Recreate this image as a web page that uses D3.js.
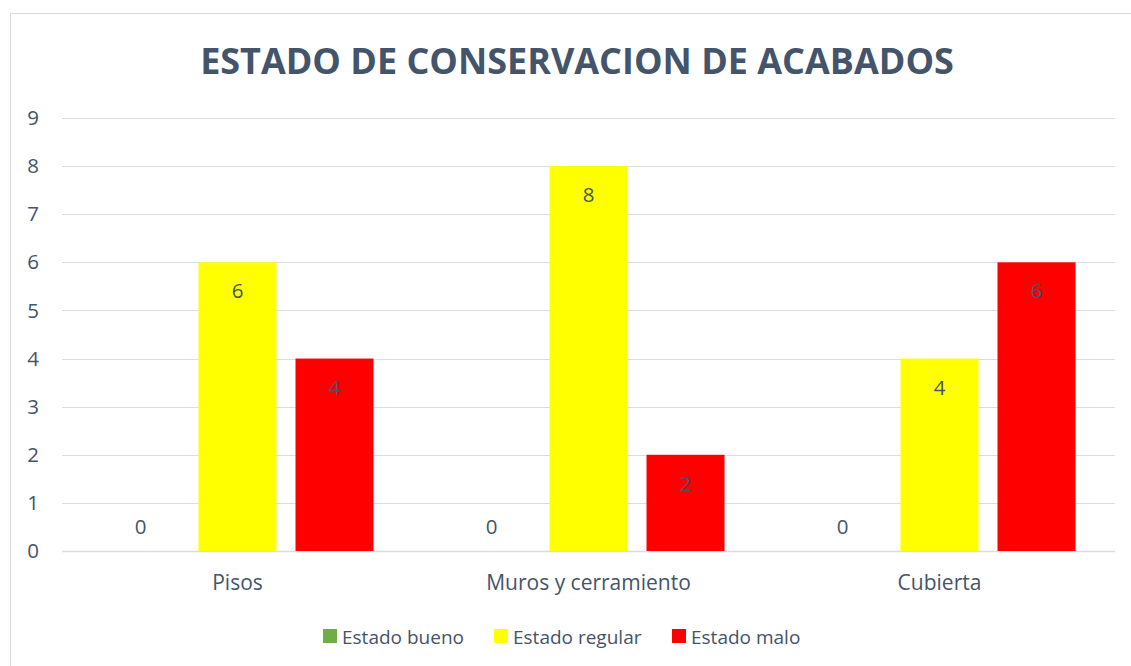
<!DOCTYPE html>
<html lang="es">
<head>
<meta charset="UTF-8">
<title>Estado de conservacion de acabados</title>
<script src="https://d3js.org/d3.v7.min.js"></script>
<style>
  body { margin: 0; background: #fff; }
  svg { display: block; font-family: "Open Sans", "Noto Sans", sans-serif; }
  .tick text { fill: #44546A; }
</style>
</head>
<body>
<div id="chart"></div>
<script>
  // chart data
  const categories = ["Pisos", "Muros y cerramiento", "Cubierta"];
  const seriesNames = ["Estado bueno", "Estado regular", "Estado malo"];
  const bueno = [0, 0, 0];
  const regular = [6, 8, 4];
  const malo = [4, 2, 6];
  const yTicks = [0, 1, 2, 3, 4, 5, 6, 7, 8, 9];
  const colors = ["#70AD47", "#FFFF00", "#FF0000"];

  const values = [bueno, regular, malo];
  const rows = categories.map((c, i) => ({
    category: c,
    items: seriesNames.map((s, j) => ({ key: s, value: values[j][i] }))
  }));

  const W = 1131, H = 666;
  const plot = { left: 62, right: 1115, top: 118, bottom: 551 };
  const textColor = "#44546A";
  const fs = 20.5;

  const svg = d3.select("#chart").append("svg")
      .attr("width", W)
      .attr("height", H);

  // outer chart frame
  svg.append("rect")
      .attr("x", 10.5).attr("y", 13.5)
      .attr("width", 1140).attr("height", 700)
      .attr("fill", "#fff")
      .attr("stroke", "#D9D9D9");

  // title
  const title = svg.append("text")
      .attr("x", 577)
      .attr("y", 73.5)
      .attr("text-anchor", "middle")
      .attr("font-size", 34)
      .attr("font-weight", "bold")
      .attr("fill", textColor)
      .text("ESTADO DE CONSERVACION DE ACABADOS");
  const tw = title.node().getComputedTextLength();
  title.attr("font-size", 34 * 754 / tw);

  const x0 = d3.scaleBand()
      .domain(categories)
      .range([plot.left, plot.right]);

  const x1 = d3.scaleBand()
      .domain(seriesNames)
      .range([39.5, x0.bandwidth() - 39.5])
      .paddingInner(0.196);

  const y = d3.scaleLinear()
      .domain([0, 9])
      .range([plot.bottom, plot.top]);

  const color = d3.scaleOrdinal()
      .domain(seriesNames)
      .range(colors);

  // gridlines
  svg.append("g")
    .selectAll("line")
    .data(yTicks)
    .enter().append("line")
      .attr("x1", plot.left)
      .attr("x2", plot.right)
      .attr("y1", d => Math.round(y(d)) + 0.5)
      .attr("y2", d => Math.round(y(d)) + 0.5)
      .attr("stroke", "#D9DDE3")
      .attr("stroke-width", d => d === 0 ? 1.5 : 1.2);

  // y axis labels
  const yAxis = svg.append("g")
      .attr("transform", `translate(${plot.left},0)`)
      .call(d3.axisLeft(y).tickValues(yTicks).tickSize(0).tickPadding(23))
      .attr("font-family", "Open Sans")
      .attr("font-size", fs);
  yAxis.select(".domain").remove();

  // bars
  const groups = svg.append("g")
    .selectAll("g")
    .data(rows)
    .enter().append("g")
      .attr("transform", d => `translate(${x0(d.category)},0)`);

  groups.selectAll("rect")
    .data(d => d.items)
    .enter().append("rect")
      .attr("x", d => x1(d.key))
      .attr("y", d => y(d.value))
      .attr("width", x1.bandwidth())
      .attr("height", d => y(0) - y(d.value))
      .attr("fill", d => color(d.key));

  // data labels (inside end)
  groups.selectAll("text.val")
    .data(d => d.items)
    .enter().append("text")
      .attr("class", "val")
      .attr("x", d => x1(d.key) + x1.bandwidth() / 2)
      .attr("y", d => d.value === 0 ? y(0) - 17 : y(d.value) + 36)
      .attr("text-anchor", "middle")
      .attr("font-size", fs)
      .attr("fill", textColor)
      .text(d => d.value);

  // x axis labels
  const xAxis = svg.append("g")
      .attr("transform", `translate(0,${plot.bottom})`)
      .call(d3.axisBottom(x0).tickSize(0).tickPadding(24))
      .attr("font-family", "Open Sans")
      .attr("font-size", 21);
  xAxis.select(".domain").remove();

  // legend
  const legendX = [323, 494, 672];
  const legend = svg.append("g")
    .selectAll("g")
    .data(seriesNames)
    .enter().append("g")
      .attr("transform", (d, i) => `translate(${legendX[i]},629)`);

  legend.append("rect")
      .attr("width", 14)
      .attr("height", 14)
      .attr("fill", d => color(d));

  legend.append("text")
      .attr("x", 19)
      .attr("y", 15)
      .attr("font-size", 19)
      .attr("fill", textColor)
      .text(d => d);
</script>
</body>
</html>
